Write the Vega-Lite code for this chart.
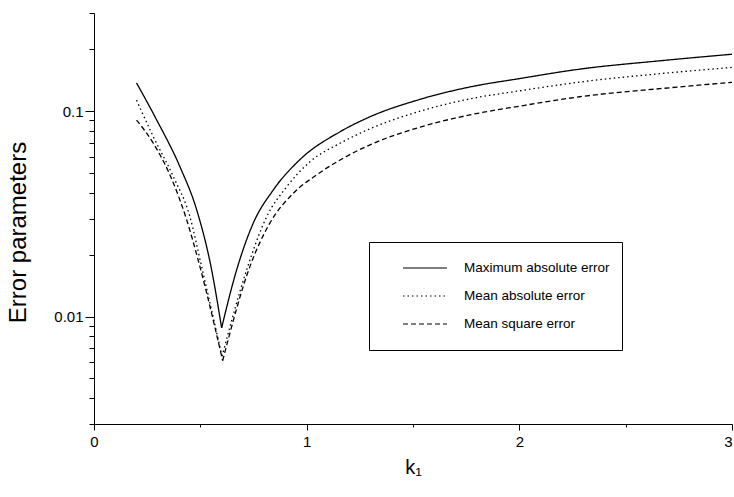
{
  "$schema": "https://vega.github.io/schema/vega-lite/v6.json",
  "width": 638,
  "height": 411,
  "autosize": {"type": "none"},
  "padding": {"left": 94, "top": 13, "right": 2, "bottom": 73},
  "background": "white",
  "config": {
    "view": {"stroke": null},
    "font": "Liberation Sans",
    "axis": {"domainColor": "black", "tickColor": "black", "labelColor": "black", "titleColor": "black", "grid": false, "titleFontWeight": "normal", "domainWidth": 1, "tickWidth": 1}
  },
  "data": {
    "values": [
      {"series": "Maximum absolute error", "branch": "L", "k": 0.2, "v": 0.137},
      {"series": "Maximum absolute error", "branch": "L", "k": 0.295, "v": 0.0904},
      {"series": "Maximum absolute error", "branch": "L", "k": 0.404, "v": 0.0536},
      {"series": "Maximum absolute error", "branch": "L", "k": 0.483, "v": 0.033},
      {"series": "Maximum absolute error", "branch": "L", "k": 0.553, "v": 0.0169},
      {"series": "Maximum absolute error", "branch": "L", "k": 0.6, "v": 0.0088},
      {"series": "Maximum absolute error", "branch": "R", "k": 0.6, "v": 0.0088},
      {"series": "Maximum absolute error", "branch": "R", "k": 0.671, "v": 0.0169},
      {"series": "Maximum absolute error", "branch": "R", "k": 0.749, "v": 0.0285},
      {"series": "Maximum absolute error", "branch": "R", "k": 0.843, "v": 0.0413},
      {"series": "Maximum absolute error", "branch": "R", "k": 0.968, "v": 0.058},
      {"series": "Maximum absolute error", "branch": "R", "k": 1.157, "v": 0.0793},
      {"series": "Maximum absolute error", "branch": "R", "k": 1.298, "v": 0.0938},
      {"series": "Maximum absolute error", "branch": "R", "k": 1.533, "v": 0.114},
      {"series": "Maximum absolute error", "branch": "R", "k": 1.768, "v": 0.131},
      {"series": "Maximum absolute error", "branch": "R", "k": 2.003, "v": 0.144},
      {"series": "Maximum absolute error", "branch": "R", "k": 2.285, "v": 0.16},
      {"series": "Maximum absolute error", "branch": "R", "k": 2.661, "v": 0.1756},
      {"series": "Maximum absolute error", "branch": "R", "k": 3.0, "v": 0.189},
      {"series": "Mean absolute error", "branch": "L", "k": 0.2, "v": 0.113},
      {"series": "Mean absolute error", "branch": "L", "k": 0.279, "v": 0.075},
      {"series": "Mean absolute error", "branch": "L", "k": 0.373, "v": 0.048},
      {"series": "Mean absolute error", "branch": "L", "k": 0.451, "v": 0.0306},
      {"series": "Mean absolute error", "branch": "L", "k": 0.506, "v": 0.0175},
      {"series": "Mean absolute error", "branch": "L", "k": 0.602, "v": 0.0064},
      {"series": "Mean absolute error", "branch": "R", "k": 0.602, "v": 0.0064},
      {"series": "Mean absolute error", "branch": "R", "k": 0.718, "v": 0.0169},
      {"series": "Mean absolute error", "branch": "R", "k": 0.812, "v": 0.0306},
      {"series": "Mean absolute error", "branch": "R", "k": 0.906, "v": 0.0428},
      {"series": "Mean absolute error", "branch": "R", "k": 1.016, "v": 0.0567},
      {"series": "Mean absolute error", "branch": "R", "k": 1.157, "v": 0.0697},
      {"series": "Mean absolute error", "branch": "R", "k": 1.298, "v": 0.082},
      {"series": "Mean absolute error", "branch": "R", "k": 1.533, "v": 0.0998},
      {"series": "Mean absolute error", "branch": "R", "k": 1.768, "v": 0.1146},
      {"series": "Mean absolute error", "branch": "R", "k": 2.003, "v": 0.1255},
      {"series": "Mean absolute error", "branch": "R", "k": 2.285, "v": 0.1384},
      {"series": "Mean absolute error", "branch": "R", "k": 2.661, "v": 0.152},
      {"series": "Mean absolute error", "branch": "R", "k": 3.0, "v": 0.163},
      {"series": "Mean square error", "branch": "L", "k": 0.2, "v": 0.0904},
      {"series": "Mean square error", "branch": "L", "k": 0.279, "v": 0.0697},
      {"series": "Mean square error", "branch": "L", "k": 0.373, "v": 0.0447},
      {"series": "Mean square error", "branch": "L", "k": 0.436, "v": 0.0295},
      {"series": "Mean square error", "branch": "L", "k": 0.498, "v": 0.0175},
      {"series": "Mean square error", "branch": "L", "k": 0.605, "v": 0.0061},
      {"series": "Mean square error", "branch": "R", "k": 0.605, "v": 0.0061},
      {"series": "Mean square error", "branch": "R", "k": 0.733, "v": 0.0175},
      {"series": "Mean square error", "branch": "R", "k": 0.827, "v": 0.0285},
      {"series": "Mean square error", "branch": "R", "k": 0.937, "v": 0.0398},
      {"series": "Mean square error", "branch": "R", "k": 1.047, "v": 0.0489},
      {"series": "Mean square error", "branch": "R", "k": 1.157, "v": 0.0578},
      {"series": "Mean square error", "branch": "R", "k": 1.298, "v": 0.0685},
      {"series": "Mean square error", "branch": "R", "k": 1.533, "v": 0.0835},
      {"series": "Mean square error", "branch": "R", "k": 1.768, "v": 0.0958},
      {"series": "Mean square error", "branch": "R", "k": 2.003, "v": 0.1057},
      {"series": "Mean square error", "branch": "R", "k": 2.285, "v": 0.1174},
      {"series": "Mean square error", "branch": "R", "k": 2.661, "v": 0.1285},
      {"series": "Mean square error", "branch": "R", "k": 3.0, "v": 0.138}
    ]
  },
  "mark": {"type": "line", "color": "black", "strokeWidth": 1.3, "interpolate": "monotone", "clip": true},
  "encoding": {
    "x": {
      "field": "k", "type": "quantitative",
      "scale": {"domain": [0, 3], "nice": false, "zero": false},
      "axis": {
        "title": "k₁", "titleFontSize": 20, "titlePadding": 8,
        "values": [0, 0.5, 1, 1.5, 2, 2.5, 3],
        "labelExpr": "datum.value % 1 == 0 ? format(datum.value, 'd') : ''",
        "labelAlign": {"condition": {"test": "datum.value == 3", "value": "right"}, "value": "center"},
        "labelFontSize": 15, "labelPadding": 4, "labelFlush": false,
        "tickSize": {"condition": {"test": "datum.value % 1 == 0", "value": 6}, "value": 3}
      }
    },
    "y": {
      "field": "v", "type": "quantitative",
      "scale": {"type": "log", "domain": [0.003, 0.3], "nice": false},
      "axis": {
        "title": "Error parameters", "titleFontSize": 24, "titlePadding": 23, "titleY": 219,
        "values": [0.003, 0.004, 0.005, 0.006, 0.007, 0.008, 0.009, 0.01, 0.02, 0.03, 0.04, 0.05, 0.06, 0.07, 0.08, 0.09, 0.1, 0.2, 0.3],
        "labelExpr": "datum.value == 0.1 ? '0.1' : datum.value == 0.01 ? '0.01' : ''",
        "labelFontSize": 15, "labelPadding": 2, "labelFlush": false,
        "tickSize": {"condition": {"test": "datum.value == 0.1 || datum.value == 0.01", "value": 9}, "value": 5}
      }
    },
    "detail": {"field": "branch", "type": "nominal"},
    "strokeDash": {
      "field": "series", "type": "nominal",
      "scale": {"domain": ["Maximum absolute error", "Mean absolute error", "Mean square error"], "range": [[1, 0], [1.5, 3], [5, 3]]},
      "legend": {
        "title": null, "orient": "none", "legendX": 275, "legendY": 229,
        "strokeColor": "black", "fillColor": "white", "padding": 12,
        "symbolType": "stroke", "symbolSize": 1936, "symbolStrokeColor": "black", "symbolStrokeWidth": 1.2,
        "symbolOffset": 21, "clipHeight": 28, "rowPadding": -1, "labelOffset": 16,
        "labelFontSize": 13.5, "labelColor": "black", "labelLimit": 300
      }
    }
  }
}
